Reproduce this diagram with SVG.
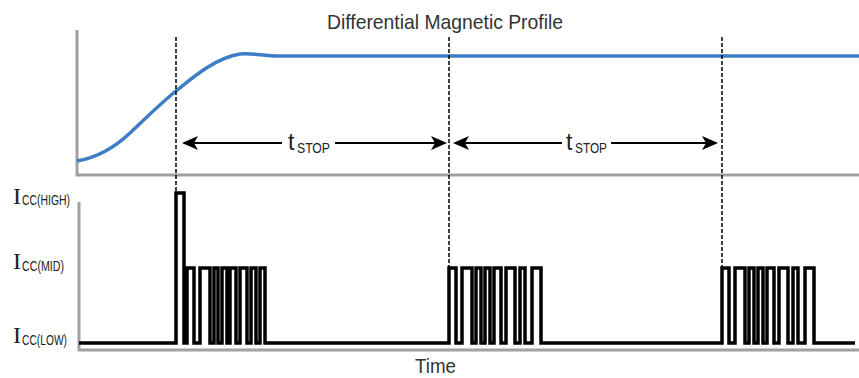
<svg xmlns="http://www.w3.org/2000/svg" width="859" height="378" viewBox="0 0 859 378">
<style>
.axis{fill:none;stroke:#a0a0a0;stroke-width:3}
.curve{fill:none;stroke:#3c7dc6;stroke-width:3.5}
.sig{fill:none;stroke:#000;stroke-width:3.5;stroke-linejoin:miter}
.dash{fill:none;stroke:#000;stroke-width:1.5;stroke-dasharray:4 2}
.dim{fill:none;stroke:#000;stroke-width:2}
.title{font-family:"Liberation Sans",Arial,sans-serif;fill:#333}
.sub{font-family:"Liberation Sans",Arial,sans-serif;fill:#222}
.ii{font-family:"Liberation Serif","Times New Roman",serif;fill:#222}
</style>
<defs>
<marker id="ah" viewBox="0 0 16 14" refX="14" refY="7" markerWidth="16" markerHeight="14" markerUnits="userSpaceOnUse" orient="auto-start-reverse">
<path d="M0,0 L16,7 L0,14 L4,7 Z" fill="#000"/>
</marker>
</defs>
<rect width="859" height="378" fill="#fff"/>
<g id="top-plot">
<path class="axis" d="M77,30 L77,175 L859,175"/>
<path class="curve" d="M77,161 C95,158 112,150 130,133 S160,104 176,91 S215,58 240,54 C255,53 262,56 280,56 L859,56"/>
<text class="title" x="327" y="29" font-size="21" textLength="236" lengthAdjust="spacingAndGlyphs">Differential Magnetic Profile</text>
</g>
<g id="bottom-plot">
<path class="axis" d="M79,202 L79,350 L859,350"/>
<path class="sig" d="M79,343 L176,343 L176,193 L184,193 L184,343 L187,343
L187,268 L194,268 L194,343 L200,343 L200,268 L210,268 L210,343 L214,343 L214,268 L218,268 L218,343 L222,343 L222,268 L227,268 L227,343 L230,343 L230,268 L236,268 L236,343 L240,343 L240,268 L247,268 L247,343 L251,343 L251,268 L256,268 L256,343 L260,343 L260,268 L265,268 L265,343
L449,343 L449,268 L456,268 L456,343 L462,343 L462,268 L472,268 L472,343 L476,343 L476,268 L481,268 L481,343 L485,343 L485,268 L490,268 L490,343 L494,343 L494,268 L501,268 L501,343 L506,343 L506,268 L515,268 L515,343 L520,343 L520,268 L525,268 L525,343 L532,343 L532,268 L541,268 L541,343
L722,343 L722,268 L729,268 L729,343 L735,343 L735,268 L745,268 L745,343 L749,343 L749,268 L754,268 L754,343 L758,343 L758,268 L763,268 L763,343 L767,343 L767,268 L774,268 L774,343 L779,343 L779,268 L788,268 L788,343 L793,343 L793,268 L798,268 L798,343 L805,343 L805,268 L814,268 L814,343 L855,343"/>
<text class="title" x="415" y="373" font-size="21" textLength="41" lengthAdjust="spacingAndGlyphs">Time</text>
</g>
<g id="level-labels">
<text class="ii" x="13" y="204" font-size="24">I</text>
<text class="sub" x="22" y="205" font-size="14" textLength="48" lengthAdjust="spacingAndGlyphs">CC(HIGH)</text>
<text class="ii" x="13" y="269" font-size="24">I</text>
<text class="sub" x="22" y="271" font-size="14" textLength="42" lengthAdjust="spacingAndGlyphs">CC(MID)</text>
<text class="ii" x="13" y="343" font-size="24">I</text>
<text class="sub" x="22" y="345" font-size="14" textLength="45" lengthAdjust="spacingAndGlyphs">CC(LOW)</text>
</g>
<g id="connectors">
<line class="dash" x1="176" y1="37" x2="176" y2="193"/>
<line class="dash" x1="449" y1="37" x2="449" y2="268"/>
<line class="dash" x1="722" y1="37" x2="722" y2="268"/>
<line class="dim" x1="184" y1="143" x2="282" y2="143" marker-start="url(#ah)"/>
<line class="dim" x1="335" y1="143" x2="445" y2="143" marker-end="url(#ah)"/>
<line class="dim" x1="455" y1="143" x2="562" y2="143" marker-start="url(#ah)"/>
<line class="dim" x1="611" y1="143" x2="716" y2="143" marker-end="url(#ah)"/>
</g>
<g id="tstop-labels">
<text class="sub" x="288" y="150" font-size="23">t</text>
<text class="sub" x="297" y="153" font-size="14" textLength="33" lengthAdjust="spacingAndGlyphs">STOP</text>
<text class="sub" x="566" y="150" font-size="23">t</text>
<text class="sub" x="575" y="153" font-size="14" textLength="32" lengthAdjust="spacingAndGlyphs">STOP</text>
</g>
</svg>
